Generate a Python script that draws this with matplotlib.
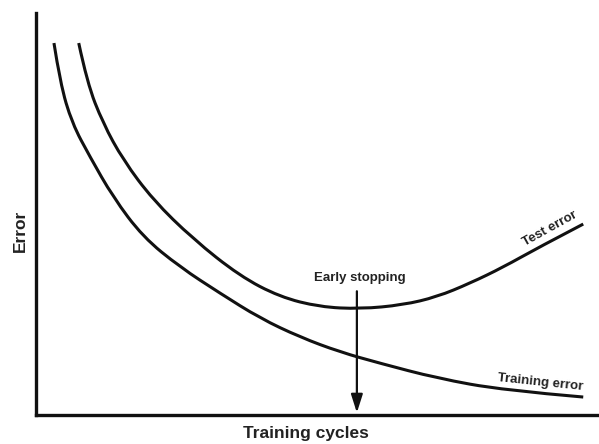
import matplotlib
matplotlib.use("Agg")
import matplotlib.pyplot as plt
from matplotlib.path import Path
from matplotlib.patches import PathPatch
import numpy as np

# values (cycles 0-100, error 0-100)
train_x = [3.2, 4.3, 6.4, 9.6, 13.7, 19.0, 25.6, 32.7, 39.8, 46.9, 54.0, 61.1,
           71.2, 83.0, 97.2]
train_y = [92.5, 82.6, 72.6, 64.2, 54.2, 44.3, 36.8, 30.3, 24.1, 19.4, 15.7, 12.9,
           9.2, 6.2, 4.5]

test_x = [7.6, 9.1, 11.9, 15.5, 20.8, 27.9, 36.2, 43.3, 50.4, 57.6, 65.2, 71.2,
          77.1, 83.0, 89.0, 97.2]
test_y = [92.5, 82.6, 72.6, 63.4, 53.5, 43.8, 34.6, 29.4, 26.9, 26.4, 27.4, 29.4,
          32.8, 36.8, 41.5, 47.5]

stop_x = 57.0
stop_top = 30.8


def smooth_curve(ax, xs, ys):
    # quadratic bezier through midpoints, read points act as control points
    pts = list(zip(xs, ys))
    verts = [pts[0]]
    codes = [Path.MOVETO]
    for i in range(1, len(pts) - 1):
        mid = ((pts[i][0] + pts[i + 1][0]) / 2, (pts[i][1] + pts[i + 1][1]) / 2)
        if i == len(pts) - 2:
            mid = pts[-1]
        verts += [pts[i], mid]
        codes += [Path.CURVE3, Path.CURVE3]
    ax.add_patch(PathPatch(Path(verts, codes), fill=False, edgecolor='#111111',
                           lw=2.2, capstyle='butt'))


plt.rcParams['font.family'] = ['Liberation Sans', 'DejaVu Sans']

fig = plt.figure(figsize=(5.99, 4.44), dpi=100)
ax = fig.add_axes([0.060, 0.065, 0.940, 0.906])

smooth_curve(ax, train_x, train_y)
smooth_curve(ax, test_x, test_y)

ax.annotate('', xy=(stop_x, 0.6), xytext=(stop_x, stop_top),
            arrowprops=dict(arrowstyle='-|>,head_length=1.1,head_width=0.35',
                            color='#111111', lw=1.6, shrinkA=0, shrinkB=0))
ax.text(stop_x + 0.5, 34.1, 'Early stopping', ha='center', va='center',
        fontsize=9.5, fontweight='bold', color='#222222')

ax.text(91.2, 46.4, 'Test error', ha='center', va='center', rotation=29,
        rotation_mode='anchor', fontsize=9.5, fontweight='bold', color='#222222')
ax.text(89.5, 8.2, 'Training error', ha='center', va='center', rotation=-6,
        rotation_mode='anchor', fontsize=9.5, fontweight='bold', color='#222222')

ax.set_xlim(0, 100)
ax.set_ylim(0, 100)
ax.set_xticks([])
ax.set_yticks([])
for side in ['top', 'right']:
    ax.spines[side].set_visible(False)
for side in ['left', 'bottom']:
    ax.spines[side].set_linewidth(2.4)
    ax.spines[side].set_color('#111111')

fig.text(306 / 599, 1 - 433 / 444, 'Training cycles', ha='center', va='center',
         fontsize=12.5, fontweight='bold', color='#222222')
fig.text(20 / 599, 1 - 231 / 444, 'Error', ha='center', va='center', rotation=90,
         fontsize=12.5, fontweight='bold', color='#222222')

fig.savefig('out.png', dpi=100)
